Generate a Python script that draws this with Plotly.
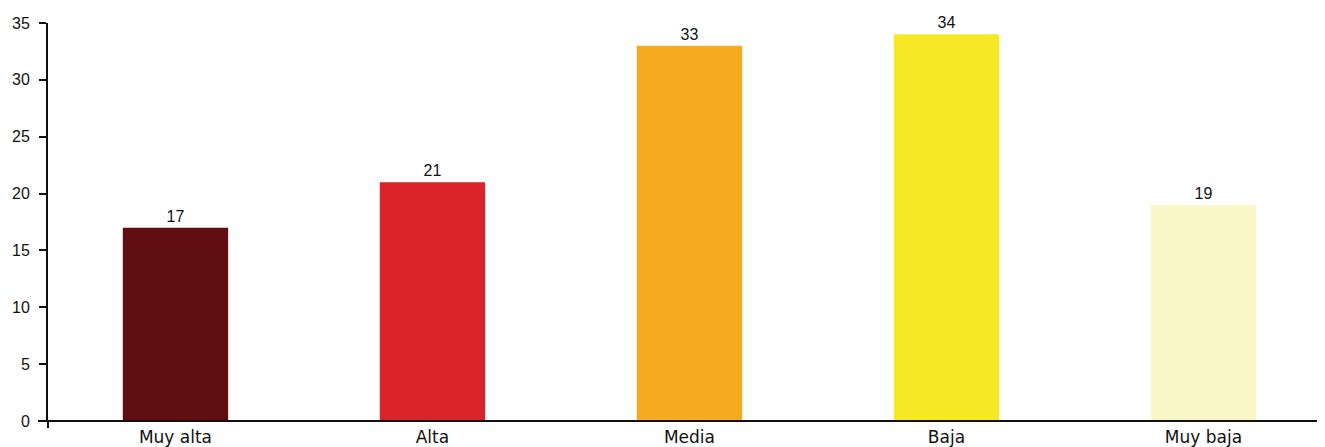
import plotly.graph_objects as go

categories = ["Muy alta", "Alta", "Media", "Baja", "Muy baja"]
values = [17, 21, 33, 34, 19]
colors = ["#600E12", "#DA2329", "#F6AB1F", "#F6E825", "#F9F6C8"]
y_ticks = [0, 5, 10, 15, 20, 25, 30, 35]

# page body has an 8px default margin; size the figure to fill the rest
W, H = 1317, 439
ml, mt = 40, 15
pw, ph = 1277, 398
mr, mb = W - ml - pw, H - mt - ph

fig = go.Figure(go.Bar(
    x=list(range(len(categories))),
    y=values,
    marker=dict(color=colors, line=dict(width=0)),
    text=[str(v) for v in values],
    textposition="outside",
    textfont=dict(size=16, color="#111111", family="Liberation Sans, Arial, sans-serif"),
    cliponaxis=False,
    width=0.41,
))

fig.update_layout(
    width=W, height=H,
    margin=dict(l=ml, r=mr, t=mt, b=mb, autoexpand=False),
    plot_bgcolor="white", paper_bgcolor="white",
    font=dict(family="Liberation Sans, Arial, sans-serif", size=16, color="#111111"),
    showlegend=False,
    xaxis=dict(
        tickmode="array",
        tickvals=list(range(len(categories))),
        ticktext=categories,
        range=[-0.496, 4.473],
        showline=False, showgrid=False, zeroline=False,
        ticks="", ticklen=0,
        tickfont=dict(size=17, family="DejaVu Sans, sans-serif"),
        ticklabelstandoff=4,
        automargin=False,
    ),
    yaxis=dict(
        range=[0, 35],
        tickmode="array",
        tickvals=y_ticks,
        showline=True, linecolor="#111111", linewidth=2,
        ticks="outside", ticklen=7, tickwidth=2, tickcolor="#111111",
        showgrid=False, zeroline=False,
        tickfont=dict(size=16),
        ticklabelstandoff=6,
        automargin=False,
    ),
    shapes=[
        dict(type="line", xref="paper", yref="paper",
             x0=-10 / pw, x1=1, y0=0, y1=0,
             line=dict(color="#111111", width=2), layer="above"),
        dict(type="line", xref="paper", yref="paper",
             x0=0, x1=0, y0=-7 / ph, y1=0,
             line=dict(color="#111111", width=2), layer="above"),
    ],
)

fig.write_html("out.html")
